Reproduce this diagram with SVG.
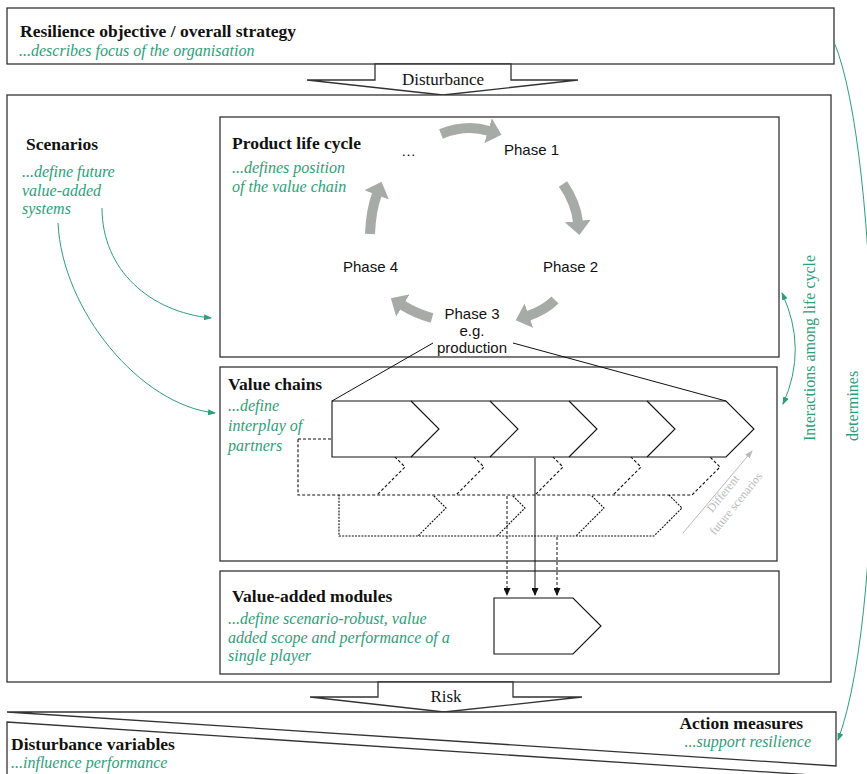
<svg xmlns="http://www.w3.org/2000/svg" width="867" height="774" viewBox="0 0 867 774">
  <style>
    .box{fill:#fff;stroke:#333;stroke-width:1.3}
    .title{font-family:"Liberation Serif",serif;font-weight:bold;font-size:17.5px;fill:#111}
    .note{font-family:"Liberation Serif",serif;font-style:italic;font-size:16px;fill:#2c9f78}
    .label{font-family:"Liberation Serif",serif;font-size:17px;fill:#111;text-anchor:middle}
    .phase{font-family:"Liberation Sans",Arial,sans-serif;font-size:15px;fill:#111}
    .cyc{fill:none;stroke:#a6aba8;stroke-width:10}
    .green{fill:none;stroke:#2c9f78;stroke-width:1}
    .side{font-family:"Liberation Serif",serif;font-size:16px;fill:#2c9f78}
    .chain{fill:#fff;stroke:#111;stroke-width:1.1}
    .chev{fill:none;stroke:#111;stroke-width:1.1}
    .dash{stroke-dasharray:3 2}
    .dot{stroke-dasharray:2 1.2}
    .conn{fill:none;stroke:#111;stroke-width:1}
    .future{font-family:"Liberation Serif",serif;font-size:12px;fill:#b8bbb9;text-anchor:middle}
  </style>
  <defs>
    <marker id="cycHead" markerUnits="userSpaceOnUse" markerWidth="14" markerHeight="26" viewBox="0 0 14 26" refX="1" refY="13" orient="auto">
      <path d="M0,0 L14,13 L0,26 z" fill="#a6aba8"/>
    </marker>
    <marker id="greenHead" markerUnits="userSpaceOnUse" markerWidth="8" markerHeight="6" viewBox="0 0 8 6" refX="7" refY="3" orient="auto-start-reverse">
      <path d="M0,0 L8,3 L0,6 z" fill="#2c9f78"/>
    </marker>
    <marker id="blackHead" markerUnits="userSpaceOnUse" markerWidth="7" markerHeight="8" viewBox="0 0 7 8" refX="3.5" refY="7" orient="0">
      <path d="M0,0 L7,0 L3.5,8 z" fill="#111"/>
    </marker>
    <marker id="grayHead" markerUnits="userSpaceOnUse" markerWidth="8" markerHeight="6" viewBox="0 0 8 6" refX="7" refY="3" orient="auto">
      <path d="M0,0 L8,3 L0,6 z" fill="#b8bbb9"/>
    </marker>
  </defs>

  <!-- strategy box -->
  <g id="strategy">
    <rect class="box" x="7" y="8" width="827" height="56"/>
    <text class="title" x="20" y="37">Resilience objective / overall strategy</text>
    <text class="note" x="19" y="56">...describes focus of the organisation</text>
  </g>

  <!-- disturbance arrow -->
  <g id="disturbance">
    <polygon class="box" points="375,64 511,64 511,80 578,80 443,95 307,80 375,80"/>
    <text class="label" x="443" y="85">Disturbance</text>
  </g>

  <!-- main frame -->
  <g id="frame">
    <rect class="box" x="7" y="95" width="824" height="587"/>
  </g>

  <!-- scenarios -->
  <g id="scenarios">
    <text class="title" x="26" y="150">Scenarios</text>
    <text class="note" x="22" y="177">...define future</text>
    <text class="note" x="22" y="196">value-added</text>
    <text class="note" x="22" y="214">systems</text>
  </g>

  <!-- product life cycle -->
  <g id="lifecycle">
    <rect class="box" x="220" y="117" width="559" height="240"/>
    <text class="title" x="232" y="149">Product life cycle</text>
    <text class="note" x="232" y="173">...defines position</text>
    <text class="note" x="232" y="192">of the value chain</text>
    <path class="cyc" d="M441,134 Q466,124 489,131" marker-end="url(#cycHead)"/>
    <path class="cyc" d="M563,184 Q576,203 578,222" marker-end="url(#cycHead)"/>
    <path class="cyc" d="M555,300 Q545,310 528,316" marker-end="url(#cycHead)"/>
    <path class="cyc" d="M432,318 Q417,314 402,305" marker-end="url(#cycHead)"/>
    <path class="cyc" d="M370,234 Q371,210 377,194" marker-end="url(#cycHead)"/>
    <text class="phase" x="401" y="156" font-size="18">…</text>
    <text class="phase" x="504" y="155">Phase 1</text>
    <text class="phase" x="543" y="272">Phase 2</text>
    <text class="phase" x="343" y="272">Phase 4</text>
    <text class="phase" x="472" y="319" text-anchor="middle">Phase 3</text>
    <text class="phase" x="472" y="336" text-anchor="middle">e.g.</text>
    <text class="phase" x="472" y="353" text-anchor="middle">production</text>
  </g>

  <!-- value chains -->
  <g id="valuechains">
    <rect class="box" x="220" y="367" width="557" height="194"/>
    <text class="title" x="228" y="390">Value chains</text>
    <text class="note" x="228" y="411">...define</text>
    <text class="note" x="228" y="431">interplay of</text>
    <text class="note" x="228" y="451">partners</text>
  </g>

  <!-- scenario chain 3 (rearmost) -->
  <g id="chain3">
    <polygon class="chain dot" points="339,480 654,480 682,508 654,536 339,536"/>
    <polyline class="chev dot" points="418,480 446,508 418,536"/>
    <polyline class="chev dot" points="497,480 525,508 497,536"/>
    <polyline class="chev dot" points="576,480 604,508 576,536"/>
  </g>

  <!-- scenario chain 2 -->
  <g id="chain2">
    <polygon class="chain dash" points="298,439 692,439 720,467 692,495 298,495"/>
    <polyline class="chev dash" points="377,439 405,467 377,495"/>
    <polyline class="chev dash" points="456,439 484,467 456,495"/>
    <polyline class="chev dash" points="535,439 563,467 535,495"/>
    <polyline class="chev dash" points="613,439 641,467 613,495"/>
  </g>

  <!-- current value chain -->
  <g id="chain1">
    <polygon class="chain" points="332,401 726,401 754,429 726,457 332,457"/>
    <polyline class="chev" points="411,401 439,429 411,457"/>
    <polyline class="chev" points="490,401 518,429 490,457"/>
    <polyline class="chev" points="569,401 597,429 569,457"/>
    <polyline class="chev" points="647,401 675,429 647,457"/>
  </g>

  <!-- future scenarios hint -->
  <g id="future">
    <line x1="683" y1="533" x2="752" y2="451" stroke="#b8bbb9" stroke-width="1" marker-end="url(#grayHead)"/>
    <text class="future" transform="translate(726,496) rotate(-51)">Different</text>
    <text class="future" transform="translate(739,506) rotate(-51)">future scenarios</text>
  </g>

  <!-- value-added modules -->
  <g id="modules">
    <rect class="box" x="220" y="571" width="559" height="103"/>
    <text class="title" x="232" y="602">Value-added modules</text>
    <text class="note" x="228" y="624">...define scenario-robust, value</text>
    <text class="note" x="228" y="643">added scope and performance of a</text>
    <text class="note" x="228" y="661">single player</text>
    <polygon class="chain" points="494,598 573,598 601,626 573,654 494,654"/>
  </g>

  <!-- risk arrow -->
  <g id="risk">
    <polygon class="box" points="378,682 513,682 513,697 582,697 444,712 310,697 378,697"/>
    <text class="label" x="446" y="702">Risk</text>
  </g>

  <!-- action measures -->
  <g id="actions">
    <polygon class="box" points="7,712 836,712 836,766"/>
    <text class="title" x="803" y="729" text-anchor="end">Action measures</text>
    <text class="note" x="811" y="747" text-anchor="end">...support resilience</text>
  </g>

  <!-- disturbance variables -->
  <g id="variables">
    <path class="box" d="M7,776 L7,722 L812,775"/>
    <text class="title" x="11" y="750">Disturbance variables</text>
    <text class="note" x="11" y="768">...influence performance</text>
  </g>

  <!-- connectors -->
  <g id="connectors">
    <line class="conn" x1="433" y1="343" x2="332" y2="401"/>
    <line class="conn" x1="513" y1="343" x2="726" y2="401"/>
    <line class="conn" x1="535" y1="458" x2="535" y2="595" marker-end="url(#blackHead)"/>
    <line class="conn dash" x1="507" y1="496" x2="507" y2="595" marker-end="url(#blackHead)"/>
    <line class="conn dash" x1="557" y1="537" x2="557" y2="595" marker-end="url(#blackHead)"/>
    <path class="green" d="M102,208 C102,270 150,312 211,318" marker-end="url(#greenHead)"/>
    <path class="green" d="M58,223 C62,310 140,405 215,413" marker-end="url(#greenHead)"/>
    <path class="green" d="M782,293 Q808,349 783,404" marker-start="url(#greenHead)" marker-end="url(#greenHead)"/>
    <path class="green" d="M834,42 C880,150 890,600 838,740" marker-end="url(#greenHead)"/>
    <text class="side" transform="translate(815,441) rotate(-90)">Interactions among life cycle</text>
    <text class="side" transform="translate(858,441) rotate(-90)">determines</text>
  </g>
</svg>
